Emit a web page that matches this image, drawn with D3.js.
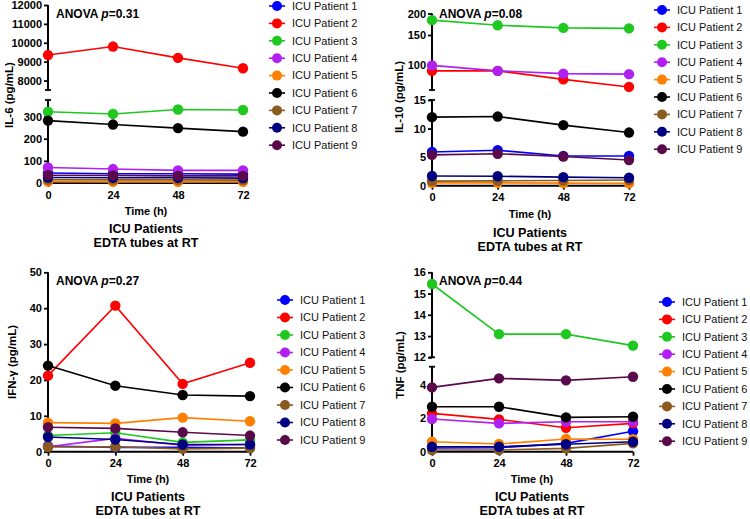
<!DOCTYPE html>
<html><head><meta charset="utf-8">
<script src="https://cdn.jsdelivr.net/npm/d3@7"></script>
<style>body{margin:0;background:#fff}svg{display:block;font-family:"Liberation Sans",Arial,sans-serif}</style>
</head><body><svg id="chart" width="750" height="519"></svg>
<script>
const times = [0, 24, 48, 72];
const patients = ["ICU Patient 1","ICU Patient 2","ICU Patient 3","ICU Patient 4","ICU Patient 5","ICU Patient 6","ICU Patient 7","ICU Patient 8","ICU Patient 9"];
const colors = ["#0000ff","#ff0000","#1ec81e","#b020f0","#ff8000","#000000","#8b5a1e","#000080","#5a0a4a"];
const il6 = [
  [45,42,42,40],[9350,9800,9200,8650],[322,312,332,330],[70,63,57,57],[6,5,5,5],
  [282,264,248,232],[15,14,14,13],[25,24,24,22],[35,34,32,32]];
const il10 = [
  [5.9,6.2,5.2,5.2],[93,93,83,75],[183,171,165,164],[100,93,89.6,89],[0.5,0.5,0.45,0.4],
  [12,12.1,10.6,9.3],[0.8,0.85,0.9,1.0],[1.7,1.65,1.5,1.4],[5.4,5.6,5.1,4.5]];
const ifng = [
  [1.6,1.2,1.2,1.0],[21.2,40.7,18.9,24.8],[4.5,5.3,2.6,3.3],[1.4,3.7,1.8,2.0],[8.1,7.9,9.5,8.5],
  [24,18.4,15.8,15.5],[1.3,1.4,0.8,1.0],[4.1,3.4,2.0,2.0],[6.8,6.5,5.4,4.5]];
const tnf = [
  [0.22,0.24,0.5,1.23],[2.3,1.94,1.44,1.7],[15.45,13.09,13.09,12.55],[1.96,1.7,1.8,1.8],[0.6,0.46,0.76,0.75],
  [2.7,2.7,2.06,2.1],[0.1,0.1,0.2,0.5],[0.3,0.3,0.45,0.6],[3.86,4.4,4.28,4.5]];
const yLabels = ["IL-6 (pg/mL)","IL-10 (pg/mL)","IFN-\u03b3 (pg/mL)","TNF (pg/mL)"];
const anovaP = ["0.31","0.08","0.27","0.44"];
const il6LowTicks = [0,100,200,300], il6HighTicks = [8000,9000,10000,11000,12000];
const il10LowTicks = [0,5,10,15], il10HighTicks = [100,150,200];
const ifngTicks = [0,10,20,30,40,50];
const tnfLowTicks = [0,2,4], tnfHighTicks = [12,13,14,15,16];

const panels = [
  {data: il6, x0:48, x1:243, base:183,
   segs:[{type:"lin", dom:[0,375], rng:[183,100], ticks:il6LowTicks, capTop:true},
         {type:"lin", dom:[7500,12000], rng:[90,5], ticks:il6HighTicks, capBot:true}],
   yl:{x:9,y:95}, anova:{x:56,y:18}, leg:{x:277,y:6,dy:17.4}, titleX:146, tY:[211,229,243]},
  {data: il10, x0:432, x1:629, base:185.7,
   segs:[{type:"lin", dom:[0,15], rng:[185.7,100], ticks:il10LowTicks, capTop:true},
         {type:"log", dom:[72,200], rng:[90,13.5], ticks:il10HighTicks, capBot:true}],
   yl:{x:399,y:97}, anova:{x:439,y:18}, leg:{x:662,y:10,dy:17.4}, titleX:530, tY:[214,233,247]},
  {data: ifng, x0:48, x1:250, base:451.7,
   segs:[{type:"lin", dom:[0,50], rng:[451.7,272.3], ticks:ifngTicks}],
   yl:{x:12,y:362}, anova:{x:56,y:285}, leg:{x:285,y:300,dy:17.5}, titleX:148, tY:[479,497,511]},
  {data: tnf, x0:432, x1:633, base:451.7,
   segs:[{type:"lin", dom:[0,5.1], rng:[451.7,366.7], ticks:tnfLowTicks, capTop:true},
         {type:"lin", dom:[12,16], rng:[357.3,272.3], ticks:tnfHighTicks, capBot:true}],
   yl:{x:400,y:365}, anova:{x:439,y:285}, leg:{x:667,y:302,dy:17.4}, titleX:532, tY:[479,497,511]}
];

const svg = d3.select("#chart");

panels.forEach((p, pi) => {
  const g = svg.append("g");
  const x = d3.scaleLinear().domain([0,72]).range([p.x0, p.x1]);
  p.segs.forEach(s => {
    s.scale = (s.type === "log" ? d3.scaleLog() : d3.scaleLinear()).domain(s.dom).range(s.rng);
  });
  const yMap = v => {
    for (let i = p.segs.length - 1; i >= 0; i--) {
      const s = p.segs[i];
      if (v >= s.dom[0] || i === 0) return s.scale(v);
    }
  };
  p.segs.forEach(s => {
    const ax = d3.axisLeft(s.scale).tickValues(s.ticks).tickSize(4).tickPadding(2).tickSizeOuter(0)
      .tickFormat(d3.format("d"));
    const a = g.append("g").attr("transform", `translate(${p.x0},0)`).call(ax);
    a.select(".domain").attr("stroke-width", 2).attr("d", `M0,${s.rng[0]}V${s.rng[1]}`);
    a.selectAll(".tick line").attr("stroke-width", 1.8);
    a.selectAll("text").attr("font-size", 11).attr("font-weight", "bold").attr("fill", "#000");
    if (s.capTop) g.append("line").attr("x1", p.x0-3).attr("x2", p.x0+3).attr("y1", s.rng[1]).attr("y2", s.rng[1]).attr("stroke","#000").attr("stroke-width",1.8);
    if (s.capBot) g.append("line").attr("x1", p.x0-3).attr("x2", p.x0+3).attr("y1", s.rng[0]).attr("y2", s.rng[0]).attr("stroke","#000").attr("stroke-width",1.8);
  });
  const xa = g.append("g").attr("transform", `translate(0,${p.base})`)
    .call(d3.axisBottom(x).tickValues(times).tickSize(4).tickPadding(4).tickSizeOuter(0));
  xa.select(".domain").attr("stroke-width", 2).attr("d", `M${p.x0-1},0H${p.x1}`);
  xa.selectAll(".tick line").attr("stroke-width", 1.8);
  xa.selectAll("text").attr("font-size", 11).attr("font-weight", "bold").attr("fill", "#000");

  p.data.forEach((vals, i) => {
    const pts = vals.map((v, j) => [x(times[j]), yMap(v)]);
    g.append("path").attr("d", d3.line()(pts)).attr("fill","none").attr("stroke", colors[i]).attr("stroke-width", 1.6);
    g.selectAll(null).data(pts).enter().append("circle")
      .attr("cx", d => d[0]).attr("cy", d => d[1]).attr("r", 5.2).attr("fill", colors[i]);
  });

  g.append("text").attr("transform", `translate(${p.yl.x},${p.yl.y}) rotate(-90)`)
    .attr("text-anchor","middle").attr("font-size", 11.5).attr("font-weight","bold").attr("dy","0.35em").text(yLabels[pi]);
  const an = g.append("text").attr("x", p.anova.x).attr("y", p.anova.y).attr("font-size", 12).attr("font-weight","bold");
  an.append("tspan").text("ANOVA ");
  an.append("tspan").attr("font-style","italic").text("p");
  an.append("tspan").text("=" + anovaP[pi]);
  g.append("text").attr("x", p.titleX).attr("y", p.tY[0]).attr("text-anchor","middle").attr("font-size", 11).attr("font-weight","bold").attr("dy","0.35em").text("Time (h)");
  g.append("text").attr("x", p.titleX).attr("y", p.tY[1]).attr("text-anchor","middle").attr("font-size", 12.6).attr("font-weight","bold").attr("dy","0.35em").text("ICU Patients");
  g.append("text").attr("x", p.titleX).attr("y", p.tY[2]).attr("text-anchor","middle").attr("font-size", 12.6).attr("font-weight","bold").attr("dy","0.35em").text("EDTA tubes at RT");
  patients.forEach((name, i) => {
    const ly = p.leg.y + i * p.leg.dy;
    g.append("line").attr("x1", p.leg.x-8).attr("x2", p.leg.x+8).attr("y1", ly).attr("y2", ly).attr("stroke", colors[i]).attr("stroke-width", 1.6);
    g.append("circle").attr("cx", p.leg.x).attr("cy", ly).attr("r", 5).attr("fill", colors[i]);
    g.append("text").attr("x", p.leg.x + 15).attr("y", ly).attr("dy","0.35em").attr("font-size", 11).attr("fill","#111").text(name);
  });
});
</script></body></html>
